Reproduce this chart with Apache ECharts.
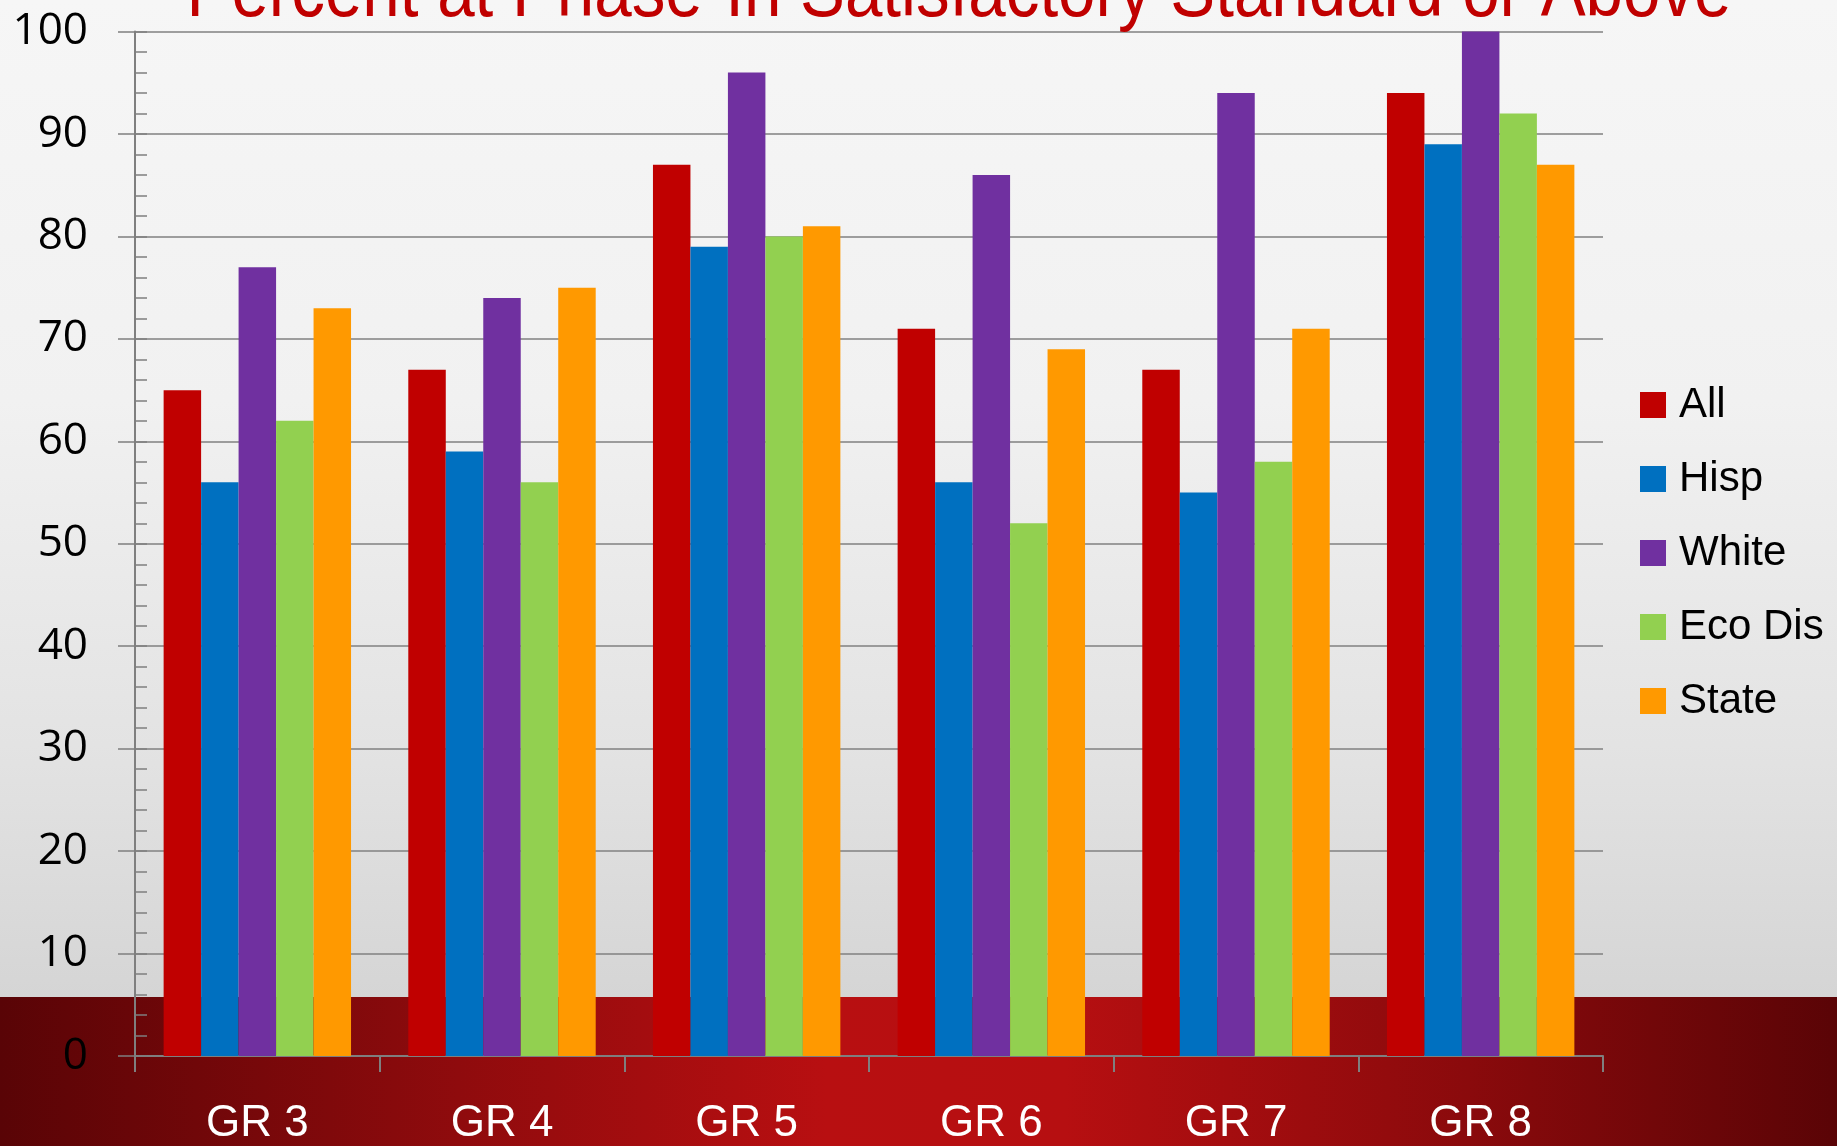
<!DOCTYPE html>
<html>
<head>
<meta charset="utf-8">
<title>Percent at Phase-In Satisfactory Standard or Above</title>
<script src="https://cdn.jsdelivr.net/npm/echarts@6/dist/echarts.min.js"></script>
<style>
  html, body { margin: 0; padding: 0; width: 1837px; height: 1146px; overflow: hidden; }
  body {
    position: relative;
    background: linear-gradient(180deg, #f6f6f6 0%, #f1f1f1 35%, #e3e3e3 65%, #d5d5d5 87%);
  }
  .band {
    position: absolute; left: 0; top: 997px; width: 1837px; height: 149px;
    background: linear-gradient(90deg, #590406 0%, #8f0b0d 25%, #b80f11 45%, #b60f11 58%, #8a0a0c 80%, #5a0406 100%);
  }
  #chart { position: absolute; left: 0; top: 0; width: 1837px; height: 1146px; }
</style>
</head>
<body>
<div class="band"></div>
<div id="chart"></div>
<script>
// data
const TITLE = 'Percent at Phase-In Satisfactory Standard or Above';
const grades = ['GR 3', 'GR 4', 'GR 5', 'GR 6', 'GR 7', 'GR 8'];
const seriesNames = ['All', 'Hisp', 'White', 'Eco Dis', 'State'];
const allValues = [65, 67, 87, 71, 67, 94];
const hispValues = [56, 59, 79, 56, 55, 89];
const whiteValues = [77, 74, 96, 86, 94, 100];
const ecoDisValues = [62, 56, 80, 52, 58, 92];
const stateValues = [73, 75, 81, 69, 71, 87];
const colors = ['#c00000', '#0070c0', '#7030a0', '#92d050', '#ff9900'];

(function () {
  const sans = '"Liberation Sans", Arial, sans-serif';

  // title is drawn condensed: measure it and squeeze to the reference width
  function titleScale(font) {
    const ctx = document.createElement('canvas').getContext('2d');
    ctx.font = font;
    const w = ctx.measureText(TITLE).width;
    return w > 0 ? 1545 / w : 1;
  }

  function buildSeries() {
    const lists = [allValues, hispValues, whiteValues, ecoDisValues, stateValues];
    return lists.map((data, i) => ({
      name: seriesNames[i],
      type: 'bar',
      data: data,
      barGap: '0%',
      barCategoryGap: '23.4%',
      itemStyle: { color: colors[i] },
      z: 3
    }));
  }

  function initChart() {
    const el = document.getElementById('chart');
    const chart = echarts.init(el, null, { renderer: 'canvas' });
    const titleFont = '78px "Liberation Sans", sans-serif';
    const sx = titleScale(titleFont);

    const opt = {
      backgroundColor: 'transparent',
      animation: false,
      color: colors,
      grid: { left: 135, right: 234, top: 31.6, bottom: 89, containLabel: false },
      graphic: [{
        type: 'text',
        x: 959,
        y: -6,
        scaleX: sx,
        style: {
          text: TITLE,
          font: titleFont,
          fill: '#c00000',
          align: 'center',
          verticalAlign: 'middle'
        },
        z: 10
      }],
      legend: {
        orient: 'vertical',
        left: 1640,
        top: 380,
        padding: 0,
        icon: 'rect',
        itemWidth: 26,
        itemHeight: 26,
        itemGap: 24,
        data: seriesNames,
        textStyle: {
          fontFamily: sans,
          fontSize: 42,
          lineHeight: 50,
          color: '#000',
          padding: [0, 0, 0, 8]
        }
      },
      xAxis: {
        type: 'category',
        data: grades,
        axisLine: { lineStyle: { color: '#7f7f7f', width: 2 } },
        axisTick: { show: true, length: 16, lineStyle: { color: '#7f7f7f', width: 2 } },
        axisLabel: {
          color: '#ffffff',
          fontFamily: sans,
          fontSize: 44,
          margin: 46
        },
        splitLine: { show: false }
      },
      yAxis: [{
        type: 'value',
        min: 0,
        max: 100,
        interval: 10,
        axisLine: { show: true, lineStyle: { color: '#7f7f7f', width: 2 } },
        axisTick: { show: true, length: 17, lineStyle: { color: '#7f7f7f', width: 1.5 } },
        axisLabel: {
          color: '#000',
          fontFamily: '"Open Sans", sans-serif',
          fontSize: 44,
          margin: 47
        },
        splitLine: { show: true, lineStyle: { color: '#808080', width: 1.5 } }
      }, {
        // second copy of the axis only carries the small inside ticks
        type: 'value',
        position: 'left',
        min: 0,
        max: 100,
        interval: 2,
        axisLine: { show: false },
        axisTick: { show: true, inside: true, length: 12, lineStyle: { color: '#7f7f7f', width: 1.5 } },
        axisLabel: { show: false },
        splitLine: { show: false }
      }],
      series: buildSeries()
    };
    chart.setOption(opt);
  }

  initChart();
})();
</script>
</body>
</html>
